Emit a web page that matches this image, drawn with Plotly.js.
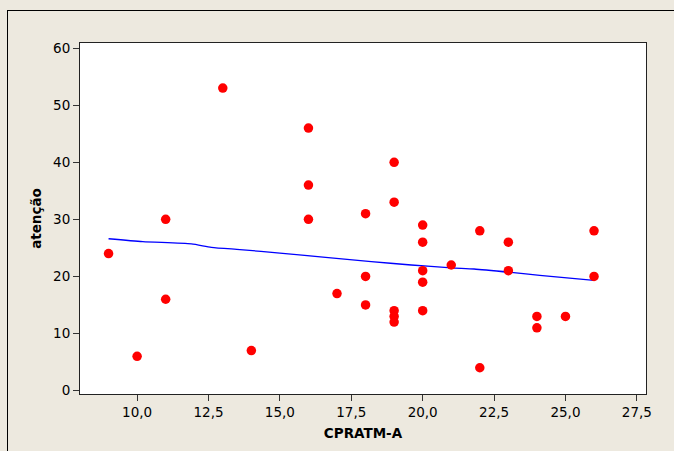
<!DOCTYPE html>
<html>
<head>
<meta charset="utf-8">
<script src="https://cdn.plot.ly/plotly-3.0.1.min.js"></script>
<style>
  html, body { margin: 0; padding: 0; background: #EDE9DF; }
  #wrap { position: relative; width: 674px; height: 451px; overflow: hidden; }
  #chart { position: absolute; left: 0; top: 0; width: 674px; height: 451px; }
  #frame {
    position: absolute; left: 7px; top: 10px; width: 700px; height: 500px;
    border-left: 1px solid #000; border-top: 1px solid #000;
    pointer-events: none;
  }
</style>
</head>
<body>
<div id="wrap">
  <div id="chart"></div>
  <div id="frame"></div>
</div>
<script>
// Observations: CPRATM-A score vs. atenção score
const cpratm = [9, 10, 11, 11, 13, 14, 16, 16, 16, 17, 18, 18, 18, 19, 19, 19, 19, 19,
                20, 20, 20, 20, 20, 21, 22, 22, 23, 23, 24, 24, 25, 26, 26];
const atencao = [24, 6, 30, 16, 53, 7, 46, 36, 30, 17, 31, 20, 15, 40, 33, 14, 13, 12,
                 29, 26, 21, 19, 14, 22, 28, 4, 26, 21, 13, 11, 13, 28, 20];

// Smoothed trend curve
const fitX = [9, 10.2, 11.9, 12.6, 13.6, 15, 18.2, 19.6, 21, 21.8, 23.1, 24.1, 26];
const fitY = [26.6, 26.1, 25.7, 25.1, 24.7, 24.1, 22.6, 22.0, 21.5, 21.3, 20.7, 20.2, 19.3];

const xTicks = [10, 12.5, 15, 17.5, 20, 22.5, 25, 27.5];
const yTicks = [0, 10, 20, 30, 40, 50, 60];

const tickFont = { family: 'DejaVu Sans, Tahoma, sans-serif', size: 13.5, color: '#000' };
const titleFont = { family: 'DejaVu Sans, Tahoma, sans-serif', size: 13.5, color: '#000', weight: 'bold' };

const traces = [
  {
    x: fitX, y: fitY, type: 'scatter', mode: 'lines',
    line: { color: '#0000FF', width: 1.3, shape: 'spline', smoothing: 0.6 },
    hoverinfo: 'skip'
  },
  {
    x: cpratm, y: atencao, type: 'scatter', mode: 'markers',
    marker: { color: '#FF0000', size: 9.5, line: { width: 0 } }
  }
];

const layout = {
  width: 674, height: 451,
  margin: { l: 80, r: 28, t: 43, b: 57 },
  paper_bgcolor: '#EDE9DF',
  plot_bgcolor: '#FFFFFF',
  showlegend: false,
  separators: ',.',
  xaxis: {
    range: [8.0, 27.82],
    tickvals: xTicks, tickformat: '.1f',
    ticks: 'outside', ticklen: 6, tickwidth: 1, tickcolor: '#333',
    showgrid: false, zeroline: false,
    showline: true, linecolor: '#222', linewidth: 1, mirror: true,
    tickfont: tickFont,
    title: { text: 'CPRATM-A', font: titleFont, standoff: 9 },
    automargin: false
  },
  yaxis: {
    range: [-0.6, 60.9],
    tickvals: yTicks,
    ticks: 'outside', ticklen: 6, tickwidth: 1, tickcolor: '#333',
    showgrid: false, zeroline: false,
    showline: true, linecolor: '#222', linewidth: 1, mirror: true,
    tickfont: tickFont,
    title: { text: 'atenção', font: titleFont, standoff: 8 },
    automargin: false
  }
};

Plotly.newPlot('chart', traces, layout, { displayModeBar: false, staticPlot: true });
</script>
</body>
</html>
